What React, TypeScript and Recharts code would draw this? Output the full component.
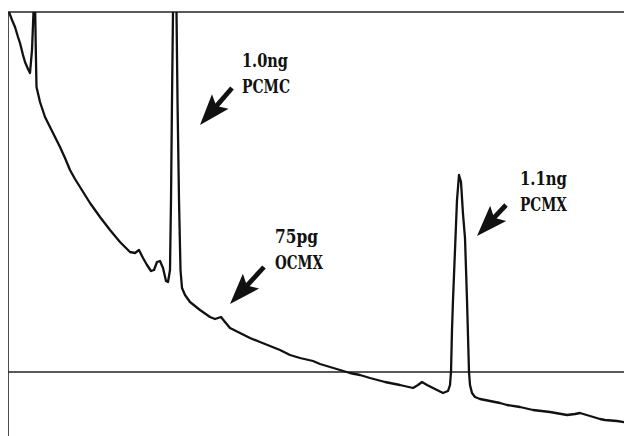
import React from "react";
import { LineChart, Line, XAxis, YAxis, ReferenceLine, ReferenceDot } from "recharts";

// Chromatogram trace: retention time (arbitrary units) vs detector signal (arbitrary units, 0 = drawn baseline)
const retentionTime = [
  1, 4, 7, 10, 12, 15, 17, 20, 22, 24, 25.5, 26.3, 27.2, 27.8, 28.5, 32, 37, 42, 47, 52,
  57, 62, 67, 72, 82, 92, 102, 112, 122, 127, 131, 135, 139, 143, 146, 149, 152, 155, 158, 160,
  162, 163, 164, 165, 166.7, 168.5, 169.5, 171, 172.5, 174, 177, 182, 192, 202, 207, 210, 213, 217, 222, 232,
  242, 252, 262, 272, 282, 292, 305, 312, 322, 332, 342, 352, 362, 377, 392, 405, 410, 414, 419, 425,
  435, 440, 442, 443, 444, 445, 447, 449, 451, 453, 455, 457, 459, 461, 462, 464, 467, 472, 482, 492,
  499, 512, 525, 542, 559, 567, 572, 582, 592, 597, 609, 622,
];
const detectorSignal = [
  360, 352, 345, 335, 329, 317, 310, 303, 299, 322, 360, 392, 360, 322, 285, 270, 255, 245, 235, 225,
  214, 202, 193, 185, 169, 155, 142, 130, 120, 119, 122, 114, 107, 101, 102, 110, 111, 104, 91, 90,
  102, 172, 272, 360, 432, 360, 272, 172, 102, 84, 77, 70, 62, 55, 53, 54, 55, 50, 44, 39,
  34, 30, 26, 22, 17, 14, 11, 8, 5, 2, -1, -3, -6, -10, -13, -16, -13, -10, -13, -16,
  -21, -19, -13, 0, 42, 72, 122, 172, 197, 190, 158, 134, 72, 0, -13, -21, -25, -27, -29, -31,
  -33, -35, -38, -40, -43, -42, -41, -44, -47, -48, -49, -51,
];

// Peak annotations
const peakAmounts = ["1.0ng", "75pg", "1.1ng"];
const peakCompounds = ["PCMC", "OCMX", "PCMX"];
const arrowTipTime = [192, 222, 469];
const arrowTipSignal = [247, 68, 136];
const labelTime = [234, 267, 512];
const labelSignal = [305, 129, 187];

const chartData = retentionTime.map((t, i) => ({ time: t, signal: detectorSignal[i] }));

const INK = "#111";
const arrowTails = [
  [32, -37],
  [34, -37],
  [29, -31],
];
const amountWidths = [46, 43, 47];
const compoundWidths = [48, 48, 47];

function makeArrow(dx: number, dy: number) {
  return (p: any) => {
    const { cx, cy } = p;
    const len = Math.hypot(dx, dy);
    const ux = dx / len;
    const uy = dy / len;
    const nx = -uy;
    const ny = ux;
    const L = 31;
    const W = 11;
    const notch = 25;
    const sw = 2.4;
    const pt = (a: number, b: number) => `${cx + ux * a + nx * b},${cy + uy * a + ny * b}`;
    const head = [pt(0, 0), pt(L, W), pt(notch, 0), pt(L, -W)].join(" ");
    const shaft = [pt(notch - 2, sw), pt(len, sw), pt(len, -sw), pt(notch - 2, -sw)].join(" ");
    return (
      <g>
        <polygon points={head} fill={INK} />
        <polygon points={shaft} fill={INK} />
      </g>
    );
  };
}

function makeLabel(i: number) {
  return (p: any) => {
    const { cx, cy } = p;
    const style = {
      fontFamily: "DejaVu Serif",
      fontWeight: 700,
      fontSize: 19,
      fill: INK,
    } as const;
    return (
      <g>
        <text x={cx} y={cy} {...style} textLength={amountWidths[i]} lengthAdjust="spacingAndGlyphs">
          {peakAmounts[i]}
        </text>
        <text x={cx} y={cy + 26} {...style} textLength={compoundWidths[i]} lengthAdjust="spacingAndGlyphs">
          {peakCompounds[i]}
        </text>
      </g>
    );
  };
}

export default function App() {
  return (
    <LineChart width={624} height={428} data={chartData} margin={{ top: 4, right: 2, left: 0, bottom: 0 }}>
      <XAxis dataKey="time" type="number" domain={[0, 622]} hide allowDataOverflow />
      <YAxis type="number" domain={[-64, 360]} hide allowDataOverflow />
      <ReferenceLine x={0} stroke="#222" strokeWidth={1.6} />
      <ReferenceLine x={622} stroke="#222" strokeWidth={1.6} />
      <ReferenceLine y={360} stroke="#222" strokeWidth={1.6} />
      <ReferenceLine y={0} stroke="#222" strokeWidth={1.4} />
      <Line
        dataKey="signal"
        type="linear"
        stroke={INK}
        strokeWidth={2.3}
        strokeLinejoin="round"
        dot={false}
        isAnimationActive={false}
      />
      {peakAmounts.map((_, i) => (
        <ReferenceDot
          key={`a${i}`}
          x={arrowTipTime[i]}
          y={arrowTipSignal[i]}
          r={0}
          shape={makeArrow(arrowTails[i][0], arrowTails[i][1])}
        />
      ))}
      {peakAmounts.map((_, i) => (
        <ReferenceDot key={`l${i}`} x={labelTime[i]} y={labelSignal[i]} r={0} shape={makeLabel(i)} />
      ))}
    </LineChart>
  );
}
